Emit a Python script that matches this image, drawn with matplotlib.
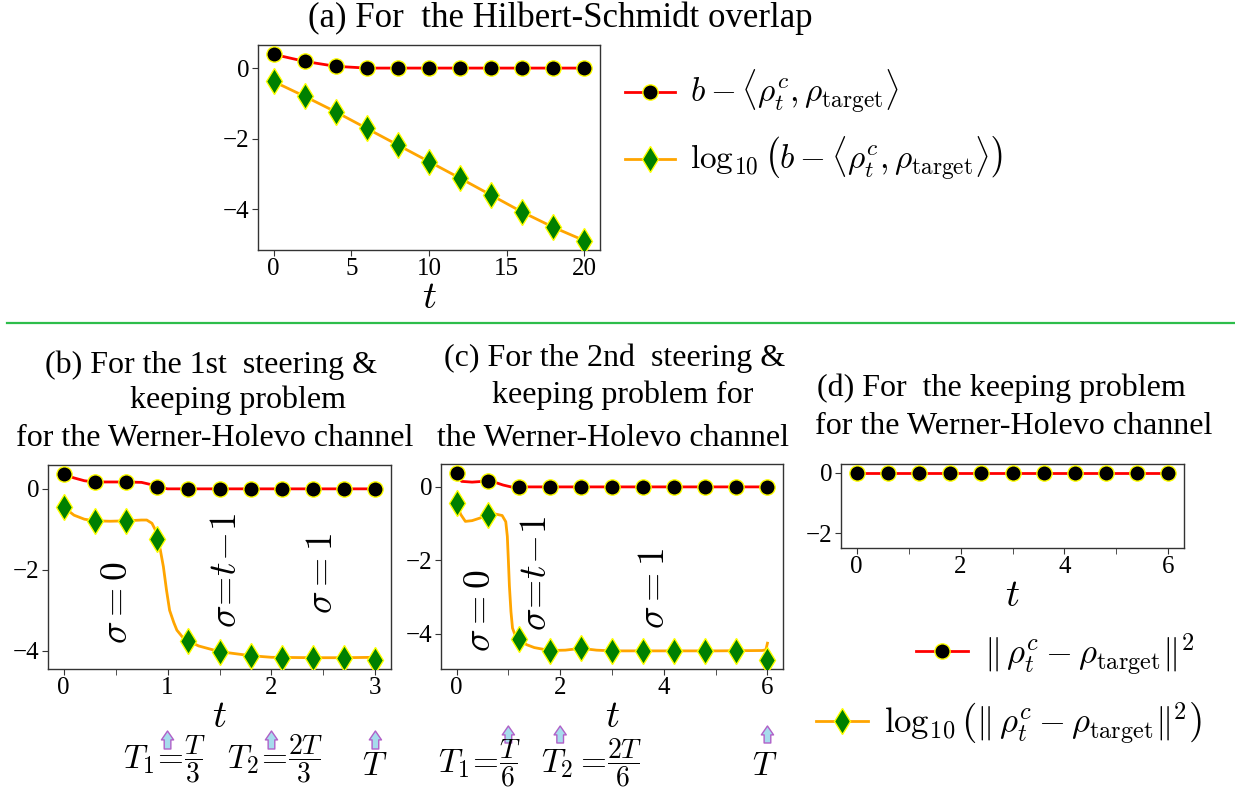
import numpy as np
import matplotlib
matplotlib.use("Agg")
import matplotlib.pyplot as plt
import matplotlib.transforms as mtransforms
from matplotlib.lines import Line2D

plt.rcParams['font.family'] = ['Liberation Serif', 'DejaVu Serif']
plt.rcParams['mathtext.fontset'] = 'cm'

# ---- data ----
# (a) Hilbert-Schmidt overlap
ta = [0, 2, 4, 6, 8, 10, 12, 14, 16, 18, 20]
a_red = [0.39, 0.19, 0.05, 0.0, 0.0, 0.0, 0.0, 0.0, 0.0, 0.0, 0.0]
a_green = [-0.38, -0.80, -1.24, -1.71, -2.18, -2.65, -3.12, -3.60, -4.08, -4.51, -4.89]

# (b) 1st steering & keeping problem
tb = [0, 0.3, 0.6, 0.9, 1.2, 1.5, 1.8, 2.1, 2.4, 2.7, 3.0]
b_red = [0.36, 0.17, 0.17, 0.05, 0.0, 0.0, 0.0, 0.0, 0.0, 0.0, 0.0]
b_green = [-0.45, -0.79, -0.80, -1.23, -3.76, -4.02, -4.13, -4.18, -4.17, -4.17, -4.22]
tb_red_line = [0, 0.1, 0.2, 0.3, 0.6, 0.75, 0.85, 0.9, 1.0, 1.2, 3.0]
b_red_line = [0.36, 0.27, 0.20, 0.17, 0.17, 0.16, 0.10, 0.05, 0.0, 0.0, 0.0]
tb_green_line = [0, 0.1, 0.2, 0.3, 0.45, 0.6, 0.75, 0.8, 0.85, 0.88, 0.9, 0.93, 0.96,
                 0.99, 1.02, 1.06, 1.09, 1.15, 1.2, 1.3, 1.5, 1.8, 2.0, 2.4, 2.7, 3.0]
b_green_line = [-0.45, -0.65, -0.75, -0.79, -0.80, -0.79, -0.77, -0.77, -0.85, -1.0, -1.23,
                -1.5, -1.92, -2.5, -3.0, -3.3, -3.49, -3.68, -3.76, -3.88, -4.02, -4.12,
                -4.16, -4.17, -4.17, -4.16]

# (c) 2nd steering & keeping problem
tc = [0, 0.6, 1.2, 1.8, 2.4, 3.0, 3.6, 4.2, 4.8, 5.4, 6.0]
c_red = [0.37, 0.17, 0.0, 0.0, 0.0, 0.0, 0.0, 0.0, 0.0, 0.0, 0.0]
c_green = [-0.44, -0.77, -4.14, -4.46, -4.40, -4.47, -4.47, -4.47, -4.46, -4.46, -4.71]
tc_red_line = [0, 0.1, 0.3, 0.6, 0.75, 0.9, 1.05, 1.2, 6.0]
c_red_line = [0.37, 0.15, 0.13, 0.16, 0.12, 0.05, 0.0, 0.0, 0.0]
tc_green_line = [0, 0.08, 0.17, 0.3, 0.45, 0.6, 0.75, 0.88, 0.95, 0.98, 1.0, 1.02, 1.05,
                 1.08, 1.12, 1.2, 1.35, 1.5, 1.8, 2.1, 2.4, 2.7, 3.0, 4.0, 5.0, 5.9, 5.97, 6.0]
c_green_line = [-0.44, -0.75, -0.94, -0.92, -0.85, -0.77, -0.74, -0.78, -0.95, -1.35, -2.0,
                -2.7, -3.4, -3.85, -4.0, -4.14, -4.3, -4.38, -4.46, -4.45, -4.40, -4.45,
                -4.47, -4.47, -4.47, -4.46, -4.44, -4.26]

# (d) keeping problem
td = [0, 0.6, 1.2, 1.8, 2.4, 3.0, 3.6, 4.2, 4.8, 5.4, 6.0]
d_red = [0.0, 0.0, 0.0, 0.0, 0.0, 0.0, 0.0, 0.0, 0.0, 0.0, 0.0]

# switching times (T1, T2, T) for (b) and (c)
b_switch = [1, 2, 3]
c_switch = [1, 2, 6]

# ---- styles ----
red_style = dict(color='red', lw=2, marker='o', ms=11, mfc='black', mec='yellow', mew=1)
green_style = dict(color='orange', lw=2, marker='d', ms=13, mfc='green', mec='yellow', mew=1)
TICK_FS = 18
LAB_FS = 28
TITLE_FS = 23
W, H = 1235, 793

fig = plt.figure(figsize=(W / 100, H / 100), dpi=100)


def px_axes(x0, y0, x1, y1):
    return fig.add_axes([x0 / W, 1 - y1 / H, (x1 - x0) / W, (y1 - y0) / H])


def style_axes(ax):
    for s in ax.spines.values():
        s.set_color('#333333')
        s.set_linewidth(1)
    ax.tick_params(labelsize=TICK_FS, color='#333333', length=4, pad=2)
    ax.set_xlabel(r'$t$', fontsize=LAB_FS, labelpad=0)


def draw(ax, t_line, y_line, t_mark, y_mark, style):
    st = dict(style)
    ax.plot(t_line, y_line, color=st['color'], lw=st['lw'], zorder=2)
    ax.plot(t_mark, y_mark, ls='none', marker=st['marker'], ms=st['ms'],
            mfc=st['mfc'], mec=st['mec'], mew=st['mew'], zorder=3)


def handle(style):
    return Line2D([], [], **style)


def legend_at(handles, labels, x, y, fs):
    leg = fig.legend(handles, labels, loc='center left', bbox_to_anchor=(x / W, 1 - y / H),
                     frameon=False, borderpad=0, borderaxespad=0, handlelength=1.5,
                     handletextpad=0.45,
                     prop={'size': fs, 'math_fontfamily': 'cm'})
    return leg


def ftext(x, y, s, **kw):
    return fig.text(x / W, 1 - y / H, s, **kw)


# (a)
ax_a = px_axes(258, 45, 600, 250)
draw(ax_a, ta, a_red, ta, a_red, red_style)
draw(ax_a, ta, a_green, ta, a_green, green_style)
ax_a.set_xticks([0, 5, 10, 15, 20])
ax_a.set_yticks([0, -2, -4])
style_axes(ax_a)

ftext(560, 18, '(a) For  the Hilbert-Schmidt overlap', ha='center', va='center', fontsize=25)
legend_at([handle(red_style)], [r'$b-\langle\rho_t^c,\rho_{\rm target}\rangle$'], 625, 92, 24)
legend_at([handle(green_style)], [r'$\log_{10}\left(b-\langle\rho_t^c,\rho_{\rm target}\rangle\right)$'],
          625, 159, 24)

# separator
fig.add_artist(Line2D([7 / W, 1], [1 - 323 / H, 1 - 323 / H], color='#2dbd4a', lw=1.6))

# (b)
ax_b = px_axes(48, 465, 391, 669)
draw(ax_b, tb_red_line, b_red_line, tb, b_red, red_style)
draw(ax_b, tb_green_line, b_green_line, tb, b_green, green_style)
ax_b.set_xticks([0, 1, 2, 3])
ax_b.set_xticks([0.5, 1.5, 2.5], minor=True)
ax_b.tick_params(which='minor', length=4, color='#333333')
ax_b.set_yticks([0, -2, -4])
style_axes(ax_b)
ax_b.text(0.52, -2.8, r'$\sigma=0$', rotation=90, fontsize=27, ha='center', va='center')
ax_b.text(1.57, -2.0, r'$\sigma\!=\!t\!-\!1$', rotation=90, fontsize=27, ha='center', va='center')
ax_b.text(2.49, -2.08, r'$\sigma=1$', rotation=90, fontsize=27, ha='center', va='center')

# (c)
ax_c = px_axes(441, 464, 783, 669)
draw(ax_c, tc_red_line, c_red_line, tc, c_red, red_style)
draw(ax_c, tc_green_line, c_green_line, tc, c_green, green_style)
ax_c.set_xticks([0, 2, 4, 6])
ax_c.set_xticks([1, 3, 5], minor=True)
ax_c.tick_params(which='minor', length=4, color='#333333')
ax_c.set_yticks([0, -2, -4])
style_axes(ax_c)
ax_c.text(0.46, -3.36, r'$\sigma=0$', rotation=90, fontsize=27, ha='center', va='center')
ax_c.text(1.55, -2.36, r'$\sigma\!=\!t\!-\!1$', rotation=90, fontsize=27, ha='center', va='center')
ax_c.text(3.83, -2.76, r'$\sigma=1$', rotation=90, fontsize=27, ha='center', va='center')

# (d)
ax_d = px_axes(841, 464, 1184, 548)
draw(ax_d, td, d_red, td, d_red, red_style)
ax_d.set_xticks([0, 2, 4, 6])
ax_d.set_xticks([1, 3, 5], minor=True)
ax_d.tick_params(which='minor', length=4, color='#333333')
ax_d.set_yticks([0, -2])
ax_d.set_ylim(-2.5, 0.3)
ax_d.set_xlim(-0.3, 6.3)
style_axes(ax_d)
legend_at([handle(red_style)], [r'$\Vert\,\rho_t^c-\rho_{\rm target}\Vert^2$'], 916, 654, 25)
legend_at([handle(green_style)], [r'$\log_{10}\left(\Vert\,\rho_t^c-\rho_{\rm target}\Vert^2\right)$'],
          816, 723, 25)

# panel titles (b)-(d)
title_lines = [
    ('(b) For the 1st  steering &', 211, 365), ('keeping problem', 238, 400),
    ('for the Werner-Holevo channel', 215, 438),
    ('(c) For the 2nd  steering &', 615, 358), ('keeping problem for', 623, 395),
    ('the Werner-Holevo channel', 613, 438),
    ('(d) For  the keeping problem', 1001, 388), ('for the Werner-Holevo channel', 1014, 427),
]
for s, x, y in title_lines:
    ftext(x, y, s, ha='center', va='center', fontsize=TITLE_FS)

# switching-time arrows under (b) and (c)
arrow_props = dict(arrowstyle='simple,head_length=0.4,head_width=0.55,tail_width=0.3',
                   fc='#a6dcec', ec='#b060c8', lw=1, mutation_scale=16,
                   shrinkA=0, shrinkB=0)


def switch_arrows(ax, times, y_top, y_bot):
    tr = mtransforms.blended_transform_factory(ax.transData, fig.transFigure)
    for t in times:
        ax.annotate('', xy=(t, 1 - y_top / H), xycoords=tr, xytext=(t, 1 - y_bot / H),
                    textcoords=tr, arrowprops=arrow_props, annotation_clip=False)


switch_arrows(ax_b, b_switch, 731, 749)
switch_arrows(ax_c, c_switch, 726, 743)

# labels: (lhs, fraction, x where lhs ends, baseline y)
switch_labels = [
    (r'$T_1\!=$', r'$\dfrac{T}{3}$', 183, 768),
    (r'$T_2\!=$', r'$\dfrac{2T}{3}$', 287, 768),
    (r'$T$', '', 388, 775),
    (r'$T_1\!=$', r'$\dfrac{T}{6}$', 498, 772),
    (r'$T_2=$', r'$\dfrac{2T}{6}$', 606, 772),
    (r'$T$', '', 778, 775),
]
for lhs, frac, x, yb in switch_labels:
    ftext(x, yb, lhs, ha='right', va='baseline', fontsize=24)
    if frac:
        ftext(x + 1, yb - 9, frac, ha='left', va='center', fontsize=20)

fig.savefig('out.png', dpi=100)
